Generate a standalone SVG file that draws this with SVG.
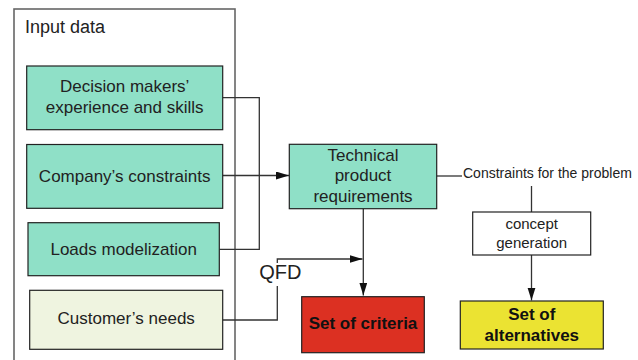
<svg xmlns="http://www.w3.org/2000/svg" width="638" height="360" viewBox="0 0 638 360">
<defs>
<marker id="arr" markerUnits="userSpaceOnUse" markerWidth="14" markerHeight="10" refX="13" refY="4" orient="auto">
<path d="M0,0 L13,4 L0,8 z" fill="#111"/>
</marker>
<style>
text{font-family:"Liberation Sans",Arial,sans-serif;fill:#222;}
.n{font-size:17px;text-anchor:middle;}
.b{font-size:17px;font-weight:bold;text-anchor:middle;fill:#111;}
.teal{fill:#8fe0c7;stroke:#222;stroke-width:1.2;}
.box{stroke:#222;stroke-width:1.2;}
.c{fill:none;stroke:#333;stroke-width:1.3;}
</style>
</defs>
<rect width="638" height="360" fill="#fff"/>
<g id="input-data">
<rect x="14" y="9" width="221" height="370" fill="none" stroke="#666" stroke-width="1.6"/>
<text x="25" y="33.3" style="font-size:18px">Input data</text>
</g>
<g id="connectors">
<path class="c" d="M222.7,97.7 H259.3 V249.3 H219.3"/>
<path class="c" d="M222.7,175.5 H289" marker-end="url(#arr)"/>
<path class="c" d="M222.7,320 H277.3 V259 H362.5" marker-end="url(#arr)"/>
<path class="c" d="M363.3,208.7 V295.5" marker-end="url(#arr)"/>
<path class="c" d="M436.7,176 H462"/>
<path class="c" d="M531.5,186 V212"/>
<path class="c" d="M531.5,255 V300.5" marker-end="url(#arr)"/>
</g>
<g id="qfd">
<rect x="258" y="263" width="46" height="23" fill="#fff"/>
<text x="259.3" y="279.3" style="font-size:20px">QFD</text>
</g>
<g id="decision-makers">
<rect class="teal" x="26.7" y="66" width="196" height="63.7"/>
<text class="n" x="124.7" y="92.3">Decision makers’</text>
<text class="n" x="124.7" y="112.7">experience and skills</text>
</g>
<g id="company-constraints">
<rect class="teal" x="26.7" y="144.5" width="196" height="63.8"/>
<text class="n" x="124.7" y="181.7">Company’s constraints</text>
</g>
<g id="loads-modelization">
<rect class="teal" x="28" y="222.7" width="191.3" height="53"/>
<text class="n" x="123.7" y="255">Loads modelization</text>
</g>
<g id="customer-needs">
<rect class="box" x="29.7" y="290.3" width="193" height="59" fill="#eff4e0"/>
<text class="n" x="126.2" y="324.3">Customer’s needs</text>
</g>
<g id="technical-product-requirements">
<rect class="teal" x="289.3" y="144.3" width="147.4" height="64.4"/>
<text class="n" x="363" y="160.7">Technical</text>
<text class="n" x="363" y="181.2">product</text>
<text class="n" x="363" y="201.7">requirements</text>
</g>
<g id="constraints-label">
<text x="463" y="178.3" style="font-size:14px">Constraints for the problem</text>
</g>
<g id="concept-generation">
<rect class="box" x="472.7" y="212" width="118" height="43" fill="#fff"/>
<text x="531.7" y="229.3" style="font-size:15px;text-anchor:middle">concept</text>
<text x="531.7" y="248.3" style="font-size:15px;text-anchor:middle">generation</text>
</g>
<g id="set-of-criteria">
<rect class="box" x="301.7" y="296.7" width="122.6" height="56" fill="#dc3022"/>
<text class="b" x="363" y="329.3">Set of criteria</text>
</g>
<g id="set-of-alternatives">
<rect class="box" x="460.3" y="301" width="143" height="48" fill="#ebe332"/>
<text class="b" x="531.8" y="320">Set of</text>
<text class="b" x="531.8" y="340.7">alternatives</text>
</g>
</svg>
